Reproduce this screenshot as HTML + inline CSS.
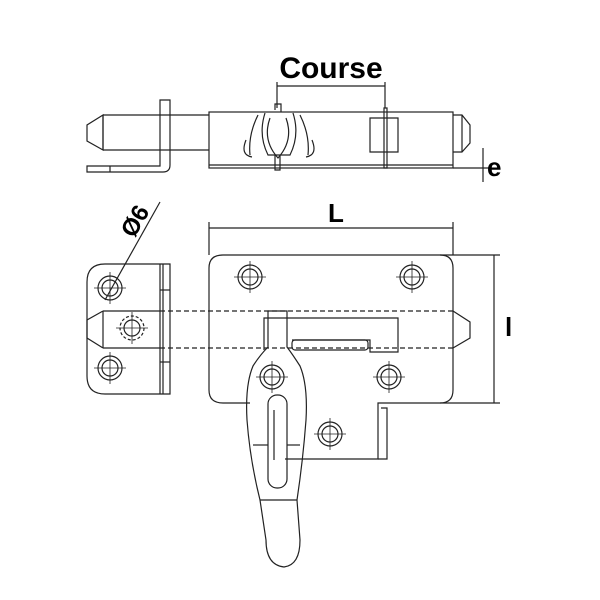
<!DOCTYPE html>
<html><head><style>body{margin:0;background:#fff}svg{display:block}</style></head><body>
<svg width="600" height="600" viewBox="0 0 600 600" xmlns="http://www.w3.org/2000/svg" fill="none" stroke="#222" stroke-width="1.2">
<!-- TOP VIEW -->
<text x="331" y="78" font-family="Liberation Sans, sans-serif" font-weight="bold" font-size="30" fill="#000" stroke="none" text-anchor="middle">Course</text>
<line x1="277" y1="86" x2="385" y2="86"/>
<line x1="277" y1="82" x2="277" y2="108"/><line x1="385" y1="82" x2="385" y2="108"/>
<path d="M103 115 L209 115 M103 150 L209 150 M103 115 L87 125 L87 141 L103 150 Z"/>
<line x1="103" y1="115" x2="103" y2="150"/>
<path d="M160 100 L170 100 L170 165 Q170 172 163 172 L87 172 L87 166 L160 166 Z"/>
<line x1="110" y1="166" x2="110" y2="172"/>
<rect x="209" y="112" width="244" height="56"/>
<line x1="209" y1="165" x2="453" y2="165"/>
<path d="M453 115 L462 115 L470 125 L470 143 L462 152 L453 152"/>
<line x1="462" y1="115" x2="462" y2="152"/>
<path d="M370 118 L398 118 L398 152 L370 152 Z"/>
<path d="M384 108 L387 108 L387 168 L384 168 Z"/>
<path d="M265 113 Q258 135 268 155 L290 155 Q300 135 293 113"/>
<path d="M270 118 Q262 140 278 158 Q294 140 286 118"/>
<path d="M258 115 Q248 135 250 155 M300 115 Q310 135 308 155"/>
<path d="M246 140 Q240 155 252 157 M312 140 Q318 155 306 157"/>
<path d="M275 155 L275 170 L280 170 L280 155"/>
<path d="M275 110 L275 104 L281 104 L281 112"/>
<line x1="453" y1="168" x2="490" y2="168"/>
<line x1="483" y1="148" x2="483" y2="182"/>
<text x="487" y="176" font-family="Liberation Sans, sans-serif" font-weight="bold" font-size="26" fill="#000" stroke="none">e</text>
<!-- DIMENSIONS -->
<text x="336" y="222" font-family="Liberation Sans, sans-serif" font-weight="bold" font-size="26" fill="#000" stroke="none" text-anchor="middle">L</text>
<line x1="209" y1="228" x2="453" y2="228"/>
<line x1="209" y1="222" x2="209" y2="255"/><line x1="453" y1="222" x2="453" y2="255"/>
<line x1="440" y1="255" x2="500" y2="255"/><line x1="440" y1="403" x2="500" y2="403"/>
<line x1="494" y1="255" x2="494" y2="403"/>
<text x="505" y="336" font-family="Liberation Sans, sans-serif" font-weight="bold" font-size="26" fill="#000" stroke="none">l</text>
<text x="0" y="0" transform="translate(142,225) rotate(-60)" font-family="Liberation Sans, sans-serif" font-weight="bold" font-size="24" fill="#000" stroke="none" text-anchor="middle">Ø6</text>
<line x1="160" y1="202" x2="105" y2="300"/>
<!-- KEEPER -->
<path d="M170 264 L105 264 Q87 264 87 282 L87 376 Q87 394 105 394 L170 394 Z"/>
<line x1="160" y1="264" x2="160" y2="394"/><line x1="163" y1="264" x2="163" y2="394"/>
<line x1="160" y1="290" x2="170" y2="290"/><line x1="160" y1="362" x2="170" y2="362"/>
<!-- PLATE -->
<path d="M223 255 L440 255 Q453 255 453 268 L453 390 Q453 403 440 403 L378 403 L378 459 L285 459 M223 255 Q209 255 209 268 L209 390 Q209 403 223 403 L250 403"/>
<path d="M381 408 L387 408 L387 459 L378 459"/>
<!-- BOLT -->
<line x1="103" y1="311" x2="160" y2="311"/><line x1="103" y1="348" x2="160" y2="348"/>
<line x1="160" y1="311" x2="453" y2="311" stroke-dasharray="5,3"/>
<line x1="160" y1="348" x2="453" y2="348" stroke-dasharray="5,3"/>
<path d="M103 311 L87 320 L87 338 L103 348 M453 311 L470 322 L470 338 L453 348"/>
<line x1="103" y1="311" x2="103" y2="348"/>
<path d="M264 350 L264 318 L398 318 L398 352 L370 352 L370 340 L292 340"/>
<rect x="292" y="340" width="76" height="10" rx="3"/>
<!-- HANDLE -->
<path d="M268 311 L287 311 L287 347 Q293 355 300 366 Q308 385 306 420 Q303 460 297 500 L300 540 Q300 565 284 567 Q266 565 266 540 L260 500 Q250 460 247 420 Q245 385 253 366 Q260 355 268 347 Z"/>
<rect x="268" y="395" width="19" height="93" rx="9"/>
<line x1="274" y1="410" x2="274" y2="460"/>
<line x1="260" y1="500" x2="297" y2="500"/>
<line x1="253" y1="445" x2="268" y2="445"/><line x1="287" y1="445" x2="300" y2="445"/>
<!-- HOLES -->
<g>
<circle cx="110" cy="288" r="12"/><circle cx="110" cy="288" r="8"/>
<circle cx="110" cy="368" r="12"/><circle cx="110" cy="368" r="8"/>
<circle cx="132" cy="328" r="12" stroke-dasharray="3,2"/><circle cx="132" cy="328" r="8"/>
<circle cx="250" cy="277" r="12"/><circle cx="250" cy="277" r="8"/>
<circle cx="412" cy="277" r="12"/><circle cx="412" cy="277" r="8"/>
<circle cx="272" cy="377" r="12"/><circle cx="272" cy="377" r="8"/>
<circle cx="389" cy="377" r="12"/><circle cx="389" cy="377" r="8"/>
<circle cx="330" cy="434" r="12"/><circle cx="330" cy="434" r="8"/>
</g>
<g stroke-width="0.8">
<path d="M110 272V304M94 288H126M110 352V384M94 368H126M132 312V344M116 328H148M250 261V293M234 277H266M412 261V293M396 277H428M272 361V393M256 377H288M389 361V393M373 377H405M330 418V450M314 434H346"/>
</g>
</svg>
</body></html>
